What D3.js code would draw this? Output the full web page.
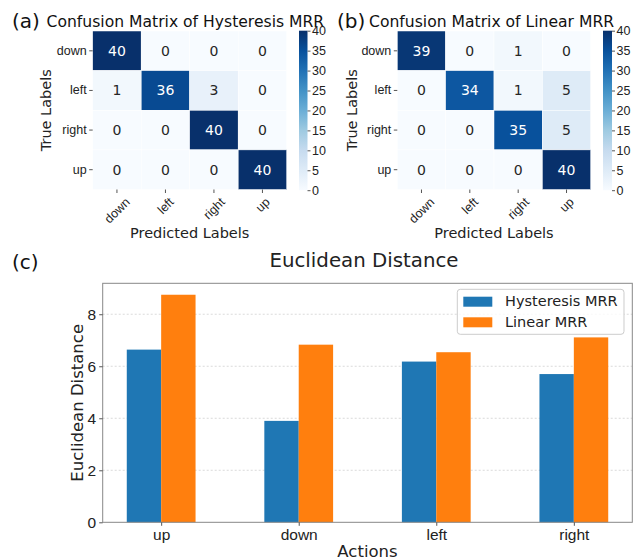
<!DOCTYPE html>
<html>
<head>
<meta charset="utf-8">
<script src="https://cdn.jsdelivr.net/npm/d3@7"></script>
<style>
  body { margin: 0; background: #fff; }
  svg { display: block; font-family: "DejaVu Sans", sans-serif; }
  .axis path, .axis line { stroke: #555; }
  .axis text { fill: #222; }
</style>
</head>
<body>
<svg id="chart" width="640" height="560"></svg>
<script>
// ---- data ----
const actions = ["down", "left", "right", "up"];
const hysteresisMatrix = [
  [40, 0, 0, 0],
  [1, 36, 3, 0],
  [0, 0, 40, 0],
  [0, 0, 0, 40]
];
const linearMatrix = [
  [39, 0, 1, 0],
  [0, 34, 1, 5],
  [0, 0, 35, 5],
  [0, 0, 0, 40]
];
const colorbarTicks = [0, 5, 10, 15, 20, 25, 30, 35, 40];

const barCategories = ["up", "down", "left", "right"];
const hysteresisDist = [6.64, 3.90, 6.18, 5.70];
const linearDist = [8.75, 6.83, 6.54, 7.11];
const distTicks = [0, 2, 4, 6, 8];
const seriesNames = ["Hysteresis MRR", "Linear MRR"];
const seriesColors = ["#1f77b4", "#ff7f0e"];

// matplotlib "Blues"
const bluesStops = ["#f7fbff", "#deebf7", "#c6dbef", "#9ecae1", "#6baed6",
                    "#4292c6", "#2171b5", "#08519c", "#08306b"];

const svg = d3.select("#chart");
const color = d3.scaleLinear()
  .domain(bluesStops.map((d, i) => i * 40 / (bluesStops.length - 1)))
  .range(bluesStops)
  .interpolate(d3.interpolateRgb);

// gradient for colorbars
const grad = svg.append("defs").append("linearGradient")
  .attr("id", "bluesGrad")
  .attr("x1", 0).attr("y1", 1).attr("x2", 0).attr("y2", 0);
grad.selectAll("stop").data(bluesStops).enter().append("stop")
  .attr("offset", (d, i) => i / (bluesStops.length - 1))
  .attr("stop-color", d => d);

function drawHeatmap(opt) {
  const x = d3.scaleBand().domain(actions).range([opt.left, opt.right]);
  const y = d3.scaleBand().domain(actions).range([opt.top, opt.bottom]);
  const g = svg.append("g");

  const cells = [];
  opt.matrix.forEach((row, r) => row.forEach((v, c) => cells.push({r, c, v})));

  g.selectAll("rect.cell").data(cells).enter().append("rect")
    .attr("class", "cell")
    .attr("x", d => x(actions[d.c]))
    .attr("y", d => y(actions[d.r]))
    .attr("width", x.bandwidth())
    .attr("height", y.bandwidth())
    .attr("fill", d => color(d.v))
    .attr("stroke", "#fff")
    .attr("stroke-width", 0.5);

  g.selectAll("text.ann").data(cells).enter().append("text")
    .attr("class", "ann")
    .attr("x", d => x(actions[d.c]) + x.bandwidth() / 2)
    .attr("y", d => y(actions[d.r]) + y.bandwidth() / 2)
    .attr("dy", "0.36em")
    .attr("text-anchor", "middle")
    .style("font-size", "14px")
    .attr("fill", d => d.v > 20 ? "#fff" : "#262626")
    .text(d => d.v);

  // y axis
  const ya = g.append("g").attr("class", "axis")
    .attr("transform", `translate(${opt.left},0)`)
    .call(d3.axisLeft(y).tickSize(3.5).tickPadding(2.5));
  ya.select(".domain").remove();
  ya.selectAll("text").style("font-size", "12.5px");

  // x axis with rotated labels
  const xa = g.append("g").attr("class", "axis")
    .attr("transform", `translate(0,${opt.bottom})`)
    .call(d3.axisBottom(x).tickSize(3.5).tickPadding(0));
  xa.select(".domain").remove();
  xa.selectAll("text")
    .style("font-size", "12.5px")
    .attr("text-anchor", "middle")
    .attr("dy", "0.36em")
    .attr("y", 0)
    .each(function () {
      const w = this.getComputedTextLength();
      const h = 9;
      const cy = 7 + (w + h) / (2 * Math.SQRT2);
      d3.select(this).attr("transform", `translate(0,${cy}) rotate(-45)`);
    });

  // labels
  svg.append("text")
    .attr("x", (opt.left + opt.right) / 2).attr("y", 237.5)
    .attr("text-anchor", "middle").style("font-size", "14.5px").attr("fill", "#222")
    .text("Predicted Labels");
  svg.append("text")
    .attr("transform", `translate(${opt.ylabX},${(opt.top + opt.bottom) / 2}) rotate(-90)`)
    .attr("text-anchor", "middle").style("font-size", "14.5px").attr("fill", "#222")
    .text("True Labels");

  // title
  svg.append("text")
    .attr("x", opt.tagX).attr("y", 27.5)
    .style("font-size", "20px").attr("fill", "#111")
    .text(opt.tag);
  svg.append("text")
    .attr("x", opt.titleX).attr("y", 26.5)
    .style("font-size", "15.6px").attr("fill", "#111")
    .text(opt.title);

  // colorbar
  const cb = d3.scaleLinear().domain([0, 40]).range([opt.bottom + 0.7, opt.top - 0.3]);
  svg.append("rect")
    .attr("x", opt.cbX).attr("y", cb(40))
    .attr("width", opt.cbW).attr("height", cb(0) - cb(40))
    .attr("fill", "url(#bluesGrad)");
  const ca = svg.append("g").attr("class", "axis")
    .attr("transform", `translate(${opt.cbX + opt.cbW},0)`)
    .call(d3.axisRight(cb).tickValues(colorbarTicks).tickSize(3).tickPadding(1.5));
  ca.select(".domain").remove();
  ca.selectAll("text").style("font-size", "12.5px");
}

drawHeatmap({
  matrix: hysteresisMatrix, left: 92.7, right: 286.7, top: 31, bottom: 189.5,
  ylabX: 51, tag: "(a)", tagX: 12, title: "Confusion Matrix of Hysteresis MRR", titleX: 46.5,
  cbX: 299, cbW: 8.5
});
drawHeatmap({
  matrix: linearMatrix, left: 397.3, right: 590.7, top: 31, bottom: 189.5,
  ylabX: 356.7, tag: "(b)", tagX: 337, title: "Confusion Matrix of Linear MRR", titleX: 369,
  cbX: 603, cbW: 9
});

// ---- bar chart ----
const bx = d3.scaleLinear().domain([-0.425, 3.425]).range([102.7, 632.3]);
const by = d3.scaleLinear().domain([0, 9.19]).range([522.3, 283.3]);
const bg = svg.append("g");

bg.selectAll("line.grid").data(distTicks.filter(d => d > 0)).enter().append("line")
  .attr("x1", bx.range()[0]).attr("x2", bx.range()[1])
  .attr("y1", d => by(d)).attr("y2", d => by(d))
  .attr("stroke", "#d0d0d0").attr("stroke-width", 0.8)
  .attr("stroke-dasharray", "2,2");

const series = [hysteresisDist, linearDist];
series.forEach((vals, s) => {
  bg.selectAll(`rect.s${s}`).data(vals).enter().append("rect")
    .attr("x", (d, i) => bx(i - 0.25 + s * 0.25))
    .attr("width", bx(0.25) - bx(0))
    .attr("y", d => by(d))
    .attr("height", d => by(0) - by(d))
    .attr("fill", seriesColors[s]);
});

// spines
bg.append("rect")
  .attr("x", bx.range()[0]).attr("y", by.range()[1])
  .attr("width", bx.range()[1] - bx.range()[0])
  .attr("height", by.range()[0] - by.range()[1])
  .attr("fill", "none").attr("stroke", "#888").attr("stroke-width", 1);

const bya = bg.append("g").attr("class", "axis")
  .attr("transform", `translate(${bx.range()[0]},0)`)
  .call(d3.axisLeft(by).tickValues(distTicks).tickFormat(d3.format("d")).tickSize(3.5).tickPadding(3));
bya.select(".domain").remove();
bya.selectAll("text").style("font-size", "15.5px");

const bxa = bg.append("g").attr("class", "axis")
  .attr("transform", `translate(0,${by.range()[0]})`)
  .call(d3.axisBottom(bx).tickValues(d3.range(barCategories.length))
    .tickFormat(i => barCategories[i]).tickSize(3.5).tickPadding(3));
bxa.select(".domain").remove();
bxa.selectAll("text").style("font-size", "15.5px");

svg.append("text")
  .attr("x", 367.5).attr("y", 556.5).attr("text-anchor", "middle")
  .style("font-size", "16.5px").attr("fill", "#222").text("Actions");
svg.append("text")
  .attr("transform", `translate(83,${(by.range()[0] + by.range()[1]) / 2}) rotate(-90)`)
  .attr("text-anchor", "middle")
  .style("font-size", "16.5px").attr("fill", "#222").text("Euclidean Distance");
svg.append("text")
  .attr("x", 364).attr("y", 266.5).attr("text-anchor", "middle")
  .style("font-size", "19.8px").attr("fill", "#222").text("Euclidean Distance");
svg.append("text")
  .attr("x", 12).attr("y", 269).style("font-size", "20px").attr("fill", "#111").text("(c)");

// legend
const lg = svg.append("g").attr("transform", "translate(457.3,289.3)");
lg.append("rect").attr("width", 166.7).attr("height", 45).attr("rx", 3)
  .attr("fill", "#fff").attr("fill-opacity", 0.8).attr("stroke", "#ccc");
seriesNames.forEach((name, i) => {
  lg.append("rect").attr("x", 6).attr("y", 7.4 + i * 20.6)
    .attr("width", 29).attr("height", 10).attr("fill", seriesColors[i]);
  lg.append("text").attr("x", 47.7).attr("y", 17 + i * 20.6)
    .style("font-size", "14.5px").attr("fill", "#222").text(name);
});
</script>
</body>
</html>
